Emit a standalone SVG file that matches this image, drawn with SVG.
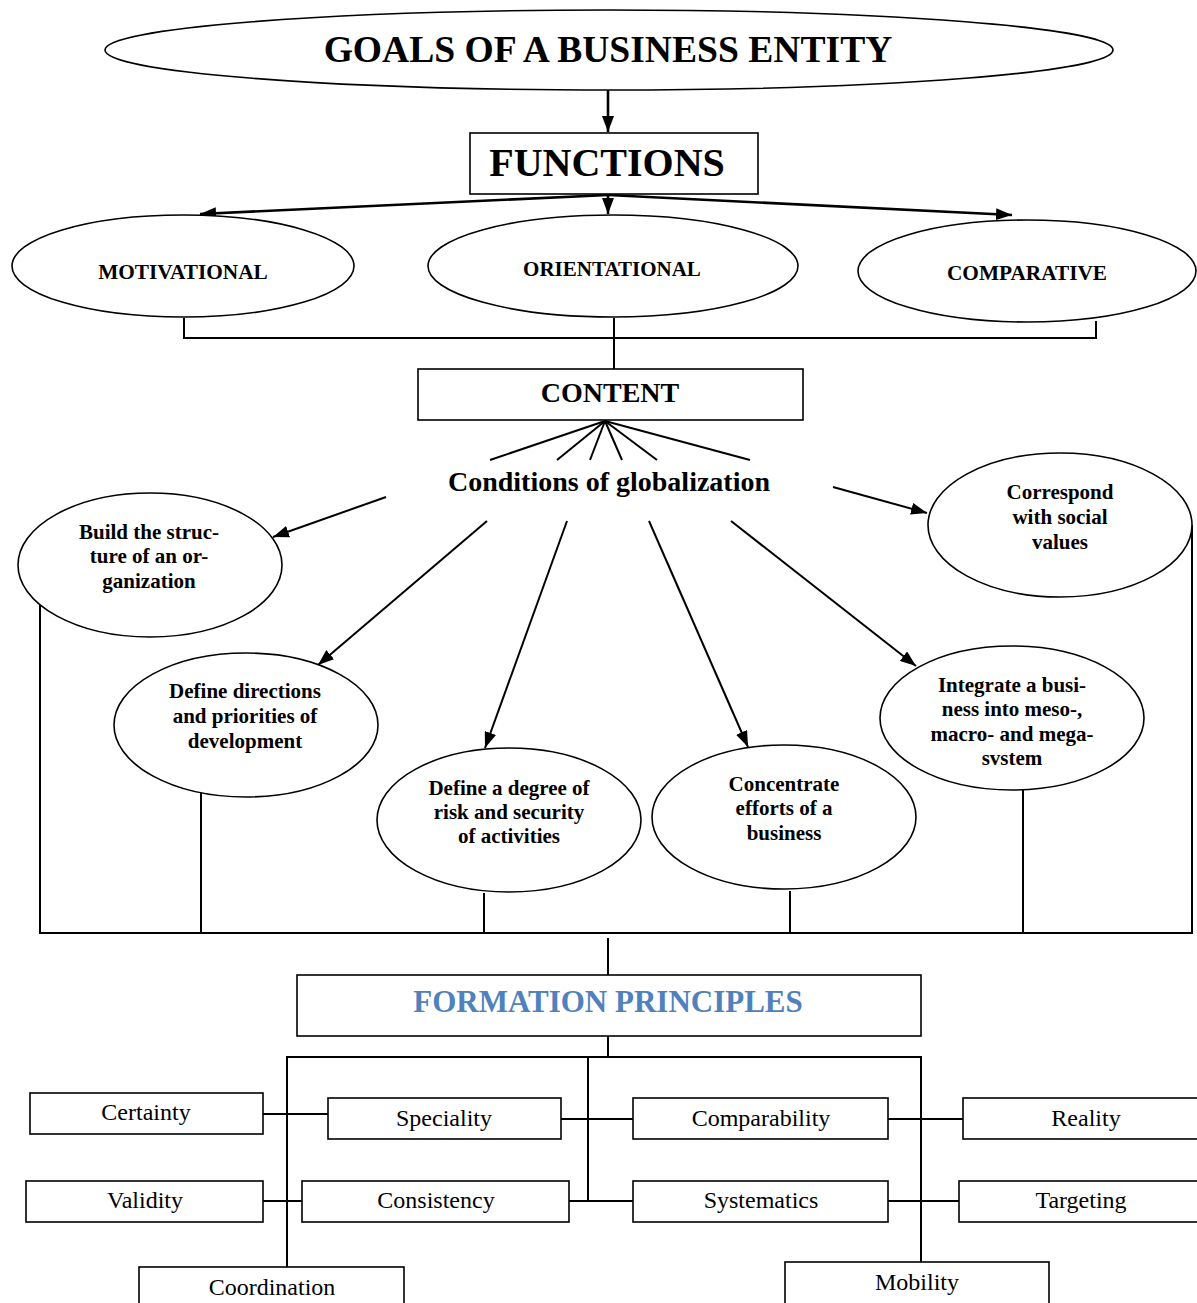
<svg xmlns="http://www.w3.org/2000/svg" width="1197" height="1303" viewBox="0 0 1197 1303">
<style>
.shape{fill:#fff;stroke:#000;stroke-width:1.6}
.ln{fill:none;stroke:#000;stroke-width:2}
.arr{fill:none;stroke:#000;stroke-width:2;marker-end:url(#ah)}
.arrt{fill:none;stroke:#000;stroke-width:2.6;marker-end:url(#ah)}
.b{font-family:"Liberation Serif","Times New Roman",serif;font-weight:bold;text-anchor:middle;fill:#000}
.r{font-family:"Liberation Serif","Times New Roman",serif;font-size:24px;text-anchor:middle;fill:#000}
.e{font-size:21px}
</style>
<defs>
<marker id="ah" viewBox="0 0 16 12" refX="16" refY="6" markerWidth="16" markerHeight="12" markerUnits="userSpaceOnUse" orient="auto">
<path d="M0,0 L16,6 L0,12 z" fill="#000"/>
</marker>
</defs>
<rect width="1197" height="1303" fill="#fff"/>

<g id="connectors">
<line class="arrt" x1="608" y1="90" x2="608" y2="132"/>
<line class="arrt" x1="608" y1="195" x2="200" y2="214"/>
<line class="arrt" x1="608" y1="195" x2="608" y2="214"/>
<line class="arrt" x1="608" y1="195" x2="1012" y2="215"/>
<polyline class="ln" points="184,318 184,338 1096,338 1096,321"/>
<line class="ln" x1="614" y1="318" x2="614" y2="369"/>
<line class="ln" x1="605" y1="421" x2="490" y2="460"/>
<line class="ln" x1="605" y1="421" x2="557" y2="460"/>
<line class="ln" x1="605" y1="421" x2="590" y2="460"/>
<line class="ln" x1="605" y1="421" x2="622" y2="460"/>
<line class="ln" x1="605" y1="421" x2="657" y2="460"/>
<line class="ln" x1="605" y1="421" x2="750" y2="460"/>
<line class="arr" x1="386" y1="497" x2="273" y2="537"/>
<line class="arr" x1="487" y1="521" x2="318" y2="665"/>
<line class="arr" x1="567" y1="521" x2="485" y2="748"/>
<line class="arr" x1="649" y1="521" x2="748" y2="747"/>
<line class="arr" x1="731" y1="521" x2="916" y2="666"/>
<line class="arr" x1="833" y1="487" x2="927" y2="513"/>
<line class="ln" x1="40" y1="605" x2="40" y2="933"/>
<line class="ln" x1="201" y1="790" x2="201" y2="933"/>
<line class="ln" x1="484" y1="893" x2="484" y2="933"/>
<line class="ln" x1="790" y1="891" x2="790" y2="933"/>
<line class="ln" x1="1023" y1="790" x2="1023" y2="933"/>
<line class="ln" x1="1192" y1="525" x2="1192" y2="933"/>
<line class="ln" x1="39" y1="933" x2="1193" y2="933"/>
<line class="ln" x1="608" y1="938" x2="608" y2="975"/>
<line class="ln" x1="608" y1="1036" x2="608" y2="1057"/>
<polyline class="ln" points="287,1267 287,1057 921,1057 921,1262"/>
<line class="ln" x1="588" y1="1057" x2="588" y2="1201"/>
<line class="ln" x1="263" y1="1114" x2="328" y2="1114"/>
<line class="ln" x1="561" y1="1119" x2="633" y2="1119"/>
<line class="ln" x1="888" y1="1119" x2="963" y2="1119"/>
<line class="ln" x1="263" y1="1201" x2="302" y2="1201"/>
<line class="ln" x1="569" y1="1201" x2="633" y2="1201"/>
<line class="ln" x1="888" y1="1201" x2="959" y2="1201"/>
</g>

<g id="goals">
<ellipse class="shape" cx="609" cy="50" rx="504" ry="40"/>
<text class="b" x="608" y="62" font-size="37.6">GOALS OF A BUSINESS ENTITY</text>
</g>
<g id="functions">
<rect class="shape" x="470" y="133" width="288" height="61"/>
<text class="b" x="607" y="176" font-size="40">FUNCTIONS</text>
</g>
<g id="motivational">
<ellipse class="shape" cx="183" cy="266" rx="171" ry="51"/>
<text class="b" x="183" y="279" font-size="21.3">MOTIVATIONAL</text>
</g>
<g id="orientational">
<ellipse class="shape" cx="613" cy="266" rx="185" ry="51"/>
<text class="b" x="612" y="276" font-size="21">ORIENTATIONAL</text>
</g>
<g id="comparative">
<ellipse class="shape" cx="1027" cy="271" rx="169" ry="51"/>
<text class="b" x="1027" y="280" font-size="21.3">COMPARATIVE</text>
</g>
<g id="content">
<rect class="shape" x="418" y="369" width="385" height="51"/>
<text class="b" x="610" y="402" font-size="28">CONTENT</text>
</g>
<g id="conditions">
<text class="b" x="609" y="491" font-size="28">Conditions of globalization</text>
</g>
<g id="build">
<ellipse class="shape" cx="150" cy="565" rx="132" ry="72"/>
<text class="b e" x="149" y="539">Build the struc-<tspan x="149" y="563">ture of an or-</tspan><tspan x="149" y="588">ganization</tspan></text>
</g>
<g id="directions">
<ellipse class="shape" cx="246" cy="725" rx="132" ry="72"/>
<text class="b e" x="245" y="698">Define directions<tspan x="245" y="723">and priorities of</tspan><tspan x="245" y="748">development</tspan></text>
</g>
<g id="risk">
<ellipse class="shape" cx="509" cy="820" rx="132" ry="72"/>
<text class="b e" x="509" y="795">Define a degree of<tspan x="509" y="819">risk and security</tspan><tspan x="509" y="843">of activities</tspan></text>
</g>
<g id="concentrate">
<ellipse class="shape" cx="784" cy="817" rx="132" ry="72"/>
<text class="b e" x="784" y="791">Concentrate<tspan x="784" y="815">efforts of a</tspan><tspan x="784" y="840">business</tspan></text>
</g>
<g id="integrate">
<ellipse class="shape" cx="1012" cy="718" rx="132" ry="72"/>
<text class="b e" x="1012" y="692">Integrate a busi-<tspan x="1012" y="716">ness into meso-,</tspan><tspan x="1012" y="741">macro- and mega-</tspan><tspan x="1012" y="765">svstem</tspan></text>
</g>
<g id="correspond">
<ellipse class="shape" cx="1060" cy="525" rx="132" ry="72"/>
<text class="b e" x="1060" y="499">Correspond<tspan x="1060" y="524">with social</tspan><tspan x="1060" y="549">values</tspan></text>
</g>
<g id="formation">
<rect class="shape" x="297" y="975" width="624" height="61"/>
<text class="b" x="608" y="1012" font-size="31" style="fill:#4F81BD">FORMATION PRINCIPLES</text>
</g>
<g id="certainty"><rect class="shape" x="30" y="1093" width="233" height="41"/><text class="r" x="146" y="1120">Certainty</text></g>
<g id="speciality"><rect class="shape" x="328" y="1098" width="233" height="41"/><text class="r" x="444" y="1126">Speciality</text></g>
<g id="comparability"><rect class="shape" x="633" y="1098" width="255" height="41"/><text class="r" x="761" y="1126">Comparability</text></g>
<g id="reality"><rect class="shape" x="963" y="1098" width="240" height="41"/><text class="r" x="1086" y="1126">Reality</text></g>
<g id="validity"><rect class="shape" x="26" y="1181" width="237" height="41"/><text class="r" x="145" y="1208">Validity</text></g>
<g id="consistency"><rect class="shape" x="302" y="1181" width="267" height="41"/><text class="r" x="436" y="1208">Consistency</text></g>
<g id="systematics"><rect class="shape" x="633" y="1181" width="255" height="41"/><text class="r" x="761" y="1208">Systematics</text></g>
<g id="targeting"><rect class="shape" x="959" y="1181" width="244" height="41"/><text class="r" x="1081" y="1208">Targeting</text></g>
<g id="coordination"><rect class="shape" x="139" y="1267" width="265" height="45"/><text class="r" x="272" y="1295">Coordination</text></g>
<g id="mobility"><rect class="shape" x="785" y="1262" width="264" height="50"/><text class="r" x="917" y="1290">Mobility</text></g>
</svg>
